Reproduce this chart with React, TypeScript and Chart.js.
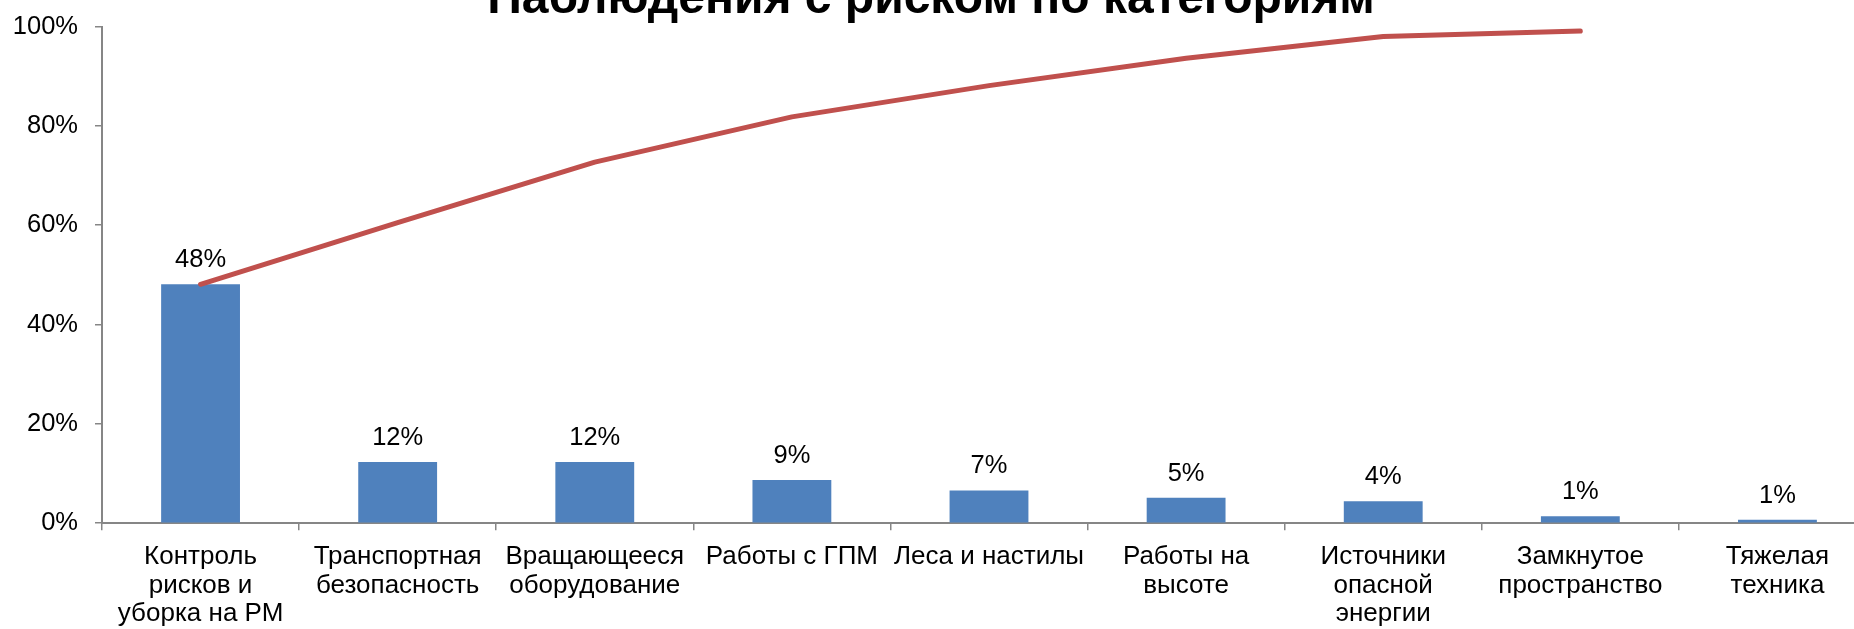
import { useEffect, useRef } from 'react';
import { Chart, registerables } from 'chart.js';

Chart.register(...registerables);

const chartTitle = 'Наблюдения с риском по категориям';

const categories: string[][] = [
  ['Контроль', 'рисков и', 'уборка на РМ'],
  ['Транспортная', 'безопасность'],
  ['Вращающееся', 'оборудование'],
  ['Работы с ГПМ'],
  ['Леса и настилы'],
  ['Работы на', 'высоте'],
  ['Источники', 'опасной', 'энергии'],
  ['Замкнутое', 'пространство'],
  ['Тяжелая', 'техника'],
];

const sharePct = [48.1, 12.3, 12.3, 8.7, 6.6, 5.1, 4.4, 1.4, 0.7];
const barLabels = ['48%', '12%', '12%', '9%', '7%', '5%', '4%', '1%', '1%'];
const cumulativePct: (number | null)[] = [48.1, 60.5, 72.7, 81.8, 88.1, 93.6, 98.0, 99.1, null];

const yMin = 0;
const yMax = 100;
const yStep = 20;

const FONT = "'Liberation Sans', Arial, sans-serif";
const LABEL_SIZE = 25.5;
const CAT_SIZE = 26;

const barValueLabels = {
  id: 'barValueLabels',
  afterDatasetsDraw(chart: any) {
    const meta = chart.getDatasetMeta(1);
    const ctx = chart.ctx;
    ctx.save();
    ctx.font = `${LABEL_SIZE}px ${FONT}`;
    ctx.fillStyle = '#000000';
    ctx.textAlign = 'center';
    ctx.textBaseline = 'alphabetic';
    meta.data.forEach((el: any, i: number) => {
      ctx.fillText(barLabels[i], el.x, el.y - 17);
    });
    ctx.restore();
  },
};

export default function App() {
  const ref = useRef<HTMLCanvasElement | null>(null);

  useEffect(() => {
    if (!ref.current) return;
    const chart = new Chart(ref.current, {
      type: 'bar',
      data: {
        labels: categories,
        datasets: [
          {
            type: 'line',
            label: 'Накопленный %',
            data: cumulativePct,
            borderColor: '#C0504D',
            backgroundColor: '#C0504D',
            borderWidth: 5,
            pointRadius: 0,
            tension: 0,
            borderCapStyle: 'round',
            borderJoinStyle: 'round',
            order: 0,
          } as any,
          {
            type: 'bar',
            label: 'Доля',
            data: sharePct,
            backgroundColor: '#4F81BD',
            borderWidth: 0,
            barPercentage: 1,
            categoryPercentage: 0.4,
            order: 1,
          },
        ],
      },
      options: {
        responsive: false,
        animation: false,
        devicePixelRatio: 1,
        layout: { padding: 0 },
        plugins: {
          legend: { display: false },
          tooltip: { enabled: false },
          title: {
            display: true,
            text: chartTitle,
            color: '#000000',
            font: { family: FONT, size: 48, weight: 'bold', lineHeight: 1.0 },
            padding: { top: 0, bottom: 2.5 },
          },
        },
        scales: {
          x: {
            offset: true,
            grid: {
              display: true,
              offset: true,
              drawOnChartArea: false,
              drawTicks: true,
              tickLength: 7,
              color: '#868686',
              lineWidth: 1.5,
            },
            border: { display: true, color: '#868686', width: 2 },
            ticks: {
              color: '#000000',
              font: { family: FONT, size: CAT_SIZE, lineHeight: 1.1 },
              padding: 12.5,
              autoSkip: false,
              maxRotation: 0,
              minRotation: 0,
            },
          },
          y: {
            min: yMin,
            max: yMax,
            grid: {
              display: true,
              drawOnChartArea: false,
              drawTicks: true,
              tickLength: 7,
              color: '#868686',
              lineWidth: 1.5,
            },
            border: { display: true, color: '#868686', width: 2 },
            ticks: {
              stepSize: yStep,
              color: '#000000',
              font: { family: FONT, size: LABEL_SIZE },
              padding: 17,
              callback: (v: any) => `${v}%`,
            },
            afterFit: (scale: any) => {
              scale.width = 116;
            },
          },
        },
      },
      plugins: [barValueLabels],
    });
    return () => chart.destroy();
  }, []);

  return (
    <div
      style={{
        position: 'fixed',
        left: 0,
        top: 0,
        width: 1854,
        height: 629,
        overflow: 'hidden',
        background: '#ffffff',
      }}
    >
      <canvas
        ref={ref}
        width={1890}
        height={665}
        style={{ position: 'absolute', left: -14, top: -24, width: 1890, height: 665 }}
      />
    </div>
  );
}
